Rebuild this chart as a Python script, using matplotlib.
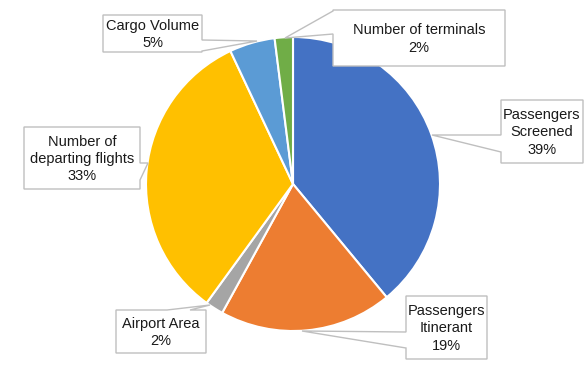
import matplotlib.pyplot as plt
from matplotlib.patches import Polygon

# slices, clockwise from 12 o'clock
labels = ['Passengers\nScreened', 'Passengers\nItinerant', 'Airport Area',
          'Number of\ndeparting flights', 'Cargo Volume', 'Number of terminals']
values = [39, 19, 2, 33, 5, 2]
colors = ['#4472C4', '#ED7D31', '#A5A5A5', '#FFC000', '#5B9BD5', '#70AD47']

# callout layout in pixel coords (y down): box, side of pointer, pointer span, tip
callouts = [
    ((501, 100, 583, 163), 'left', 135, 152, (432, 135)),
    ((406, 296, 487, 359), 'left', 332, 348, (302, 331)),
    ((116, 310, 206, 353), 'top', 167, 190, (210, 305)),
    ((24, 127, 140, 189), 'right', 163, 180, (148, 163)),
    ((103, 15, 202, 52), 'right', 40, 51, (257, 41)),
    ((333, 10, 505, 66), 'left', 11, 34, (285, 38)),
]


def callout_pts(box, side, a, b, tip):
    x0, y0, x1, y1 = box
    tl, tr, br, bl = (x0, y0), (x1, y0), (x1, y1), (x0, y1)
    if side == 'top':
        return [tl, (a, y0), tip, (b, y0), tr, br, bl]
    if side == 'right':
        return [tl, tr, (x1, a), tip, (x1, b), br, bl]
    if side == 'bottom':
        return [tl, tr, br, (b, y1), tip, (a, y1), bl]
    return [tl, tr, br, bl, (x0, b), tip, (x0, a)]


fig = plt.figure(figsize=(5.86, 3.69), dpi=100)
ax = fig.add_axes([0, 0, 1, 1])

# y axis is flipped below, so start at -90 and go "counterclock" to get clockwise on screen
ax.pie(values, colors=colors, startangle=-90, counterclock=True,
       center=(293, 184), radius=147,
       wedgeprops=dict(edgecolor='white', linewidth=1.5))

for (box, side, a, b, tip), lab, v in zip(callouts, labels, values):
    poly = Polygon(callout_pts(box, side, a, b, tip), closed=True,
                   facecolor='white', edgecolor='#BFBFBF', linewidth=1.0, zorder=3)
    ax.add_patch(poly)
    cx = (box[0] + box[2]) / 2
    cy = (box[1] + box[3]) / 2 + 1
    ax.text(cx, cy, f'{lab}\n{v}%', ha='center', va='center', fontsize=10.5,
            family='Liberation Sans', color='#1a1a1a', linespacing=1.3, zorder=4)

ax.set_xlim(0, 586)
ax.set_ylim(369, 0)
ax.set_aspect('equal')
ax.axis('off')

fig.savefig('out.png', dpi=100, facecolor='white')
